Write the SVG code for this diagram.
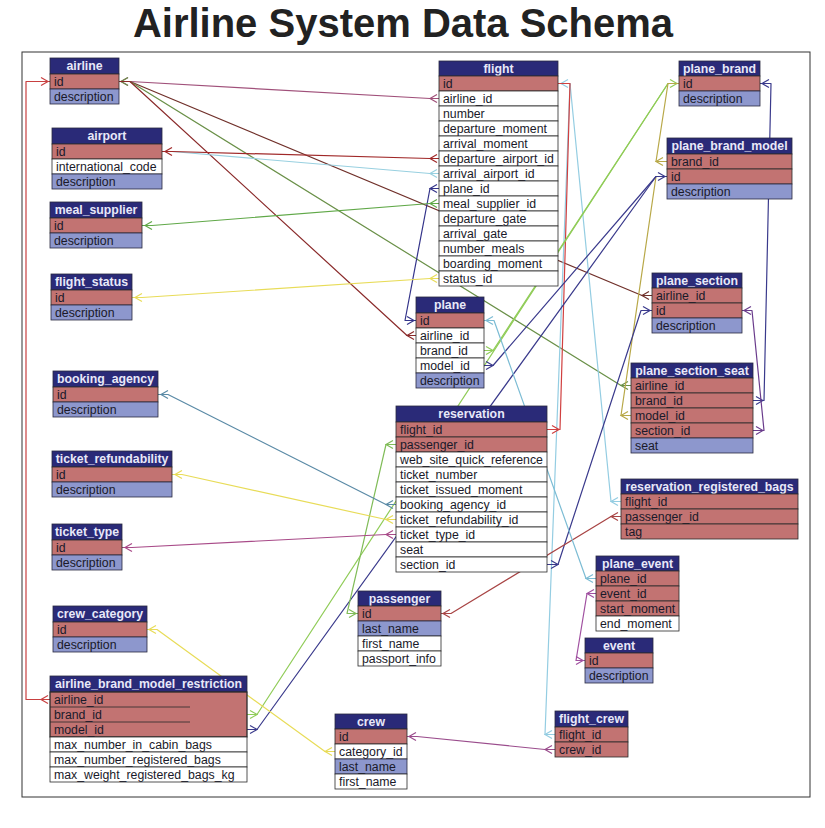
<svg xmlns="http://www.w3.org/2000/svg" xmlns:xlink="http://www.w3.org/1999/xlink" width="825" height="828" viewBox="0 0 825 828">
<defs>
<style>
.hd{fill:#2a2a78;stroke:#2a2a40;stroke-width:.8}
.pk{fill:#c27372;stroke:#2a2a2a;stroke-width:.8}
.bl{fill:#8d97cd;stroke:#2a2a40;stroke-width:.8}
.wh{fill:#fff;stroke:#2a2a2a;stroke-width:.8}
.ht{font-family:"Liberation Sans",Arial,sans-serif;font-weight:bold;font-size:12.3px;fill:#e8e8f8;text-anchor:middle}
.rt{font-family:"Liberation Sans",Arial,sans-serif;font-size:12.3px;fill:#1a1a2a}
.c{fill:none;stroke-width:1.2}
.c polyline{stroke-linejoin:round}
.title{font-family:"Liberation Sans",Arial,sans-serif;font-weight:bold;font-size:40px;fill:#222;text-anchor:middle}
</style>
<path id="cl" d="M7,-4 L0,0 L7,4"/>
<path id="cr" d="M-7,-4 L0,0 L-7,4"/>
</defs>
<rect x="0" y="0" width="825" height="828" fill="#fff"/>
<text class="title" x="403" y="37">Airline System Data Schema</text>
<rect x="22" y="52" width="788" height="745" fill="none" stroke="#333" stroke-width="1"/>

<g id="connectors">
<g class="c" stroke="#a0507a"><polyline points="439,98.5 430,98.5 130,81.5 119,81.5"/><use href="#cl" x="430" y="98.5"/><use href="#cl" x="121" y="81.5"/></g>
<g class="c" stroke="#70302a"><polyline points="652,295.5 642,295.5 130,81.5 119,81.5"/><use href="#cl" x="642" y="295.5"/></g>
<g class="c" stroke="#6a9048"><polyline points="631,385.5 621,385.5 130,81.5 119,81.5"/><use href="#cl" x="621" y="385.5"/><use href="#cl" x="121" y="81.5"/></g>
<g class="c" stroke="#8a2a2a"><polyline points="416,335.5 407,335.5 130,81.5 119,81.5"/><use href="#cl" x="407" y="335.5"/></g>
<g class="c" stroke="#c84040"><polyline points="50,699.5 26,699.5 26,81.5 50,81.5"/><use href="#cl" x="41" y="699.5"/><use href="#cr" x="48" y="81.5"/></g>
<g class="c" stroke="#98d0e0"><polyline points="439,173.5 430,173.5 172,151.5 162,151.5"/><use href="#cl" x="430" y="173.5"/></g>
<g class="c" stroke="#a02828"><polyline points="439,158.5 430,158.5 172,151.5 162,151.5"/><use href="#cl" x="430" y="158.5"/><use href="#cl" x="165" y="151.5"/></g>
<g class="c" stroke="#34348a"><polyline points="439,188.5 430,188.5 405,320.5 416,320.5"/><use href="#cl" x="430" y="188.5"/><use href="#cr" x="414" y="320.5"/></g>
<g class="c" stroke="#60a848"><polyline points="439,203.5 430,203.5 152,225.5 142,225.5"/><use href="#cl" x="430" y="203.5"/><use href="#cl" x="145" y="225.5"/></g>
<g class="c" stroke="#e8dc58"><polyline points="439,278.5 430,278.5 142,297.5 132,297.5"/><use href="#cl" x="430" y="278.5"/><use href="#cl" x="135" y="297.5"/></g>
<g class="c" stroke="#94cde2"><polyline points="621,501.5 611,501.5 570,83.5 558,83.5"/><use href="#cl" x="611" y="501.5"/></g>
<g class="c" stroke="#94cde2"><polyline points="555,734.5 545,734.5 570,83.5 558,83.5"/><use href="#cl" x="545" y="734.5"/><use href="#cl" x="561" y="83.5"/></g>
<g class="c" stroke="#d04040"><polyline points="547,429.5 560,429.5 570,83.5 558,83.5"/><use href="#cr" x="559" y="429.5"/></g>
<g class="c" stroke="#90cc58" stroke-width="2.4"><polyline points="247,714.5 257,714.5 668,83.5 679,83.5"/><use href="#cr" x="257" y="714.5" stroke-width="1.2"/></g>
<g class="c" stroke="#90cc58"><polyline points="484,350.5 493,350.5 668,83.5 679,83.5"/><use href="#cr" x="493" y="350.5"/><use href="#cr" x="677" y="83.5"/></g>
<g class="c" stroke="#b8a848"><polyline points="667,161.5 656,161.5 668,83.5 679,83.5"/><use href="#cl" x="656" y="161.5"/></g>
<g class="c" stroke="#3a3a8c"><polyline points="753,400.5 764,400.5 771,83.5 760,83.5"/><use href="#cr" x="763" y="400.5"/><use href="#cl" x="762" y="83.5"/></g>
<g class="c" stroke="#6a3c8c"><polyline points="753,430.5 764,430.5 752,310.5 742,310.5"/><use href="#cr" x="763" y="430.5"/><use href="#cl" x="744" y="310.5"/></g>
<g class="c" stroke="#b8a848"><polyline points="631,415.5 621,415.5 656,176.5 667,176.5"/><use href="#cl" x="621" y="415.5"/></g>
<g class="c" stroke="#3a3a8c"><polyline points="484,365.5 493,365.5 656,176.5 667,176.5"/><use href="#cr" x="493" y="365.5"/></g>
<g class="c" stroke="#3a3a8c"><polyline points="247,729.5 257,729.5 656,176.5 667,176.5"/><use href="#cr" x="257" y="729.5"/><use href="#cr" x="665" y="176.5"/></g>
<g class="c" stroke="#3a3a8c"><polyline points="547,564.5 558,564.5 641,310.5 652,310.5"/><use href="#cr" x="558" y="564.5"/><use href="#cr" x="650" y="310.5"/></g>
<g class="c" stroke="#80bc58"><polyline points="396,444.5 386,444.5 347,613.5 358,613.5"/><use href="#cl" x="386" y="444.5"/><use href="#cr" x="356" y="613.5"/></g>
<g class="c" stroke="#5a8aa6"><polyline points="396,504.5 386,504.5 168,394.5 158,394.5"/><use href="#cl" x="386" y="504.5"/><use href="#cl" x="161" y="394.5"/></g>
<g class="c" stroke="#e8dc58"><polyline points="396,519.5 386,519.5 182,474.5 172,474.5"/><use href="#cl" x="386" y="519.5"/><use href="#cl" x="175" y="474.5"/></g>
<g class="c" stroke="#a84a88"><polyline points="396,534.5 386,534.5 132,547.5 122,547.5"/><use href="#cl" x="386" y="534.5"/><use href="#cl" x="125" y="547.5"/></g>
<g class="c" stroke="#a84444"><polyline points="621,516.5 611,516.5 451,613.5 441,613.5"/><use href="#cl" x="611" y="516.5"/><use href="#cl" x="443" y="613.5"/></g>
<g class="c" stroke="#7cbcd4"><polyline points="596,578.5 586,578.5 494,320.5 484,320.5"/><use href="#cl" x="586" y="578.5"/><use href="#cl" x="486" y="320.5"/></g>
<g class="c" stroke="#a050a0"><polyline points="596,593.5 587,593.5 576,660.5 585,660.5"/><use href="#cl" x="587" y="593.5"/><use href="#cr" x="583" y="660.5"/></g>
<g class="c" stroke="#9a4c8c"><polyline points="555,749.5 545,749.5 417,736.5 407,736.5"/><use href="#cl" x="545" y="749.5"/><use href="#cl" x="409" y="736.5"/></g>
<g class="c" stroke="#e8dc58"><polyline points="335,751.5 325,751.5 157,629.5 147,629.5"/><use href="#cl" x="325" y="751.5"/><use href="#cl" x="149" y="629.5"/></g>
</g>

<g id="airline">
<rect class="hd" x="50" y="58" width="69" height="16"/><text class="ht" x="84.5" y="70">airline</text>
<rect class="pk" x="50" y="74" width="69" height="15"/><text class="rt" x="54" y="85.5">id</text>
<rect class="bl" x="50" y="89" width="69" height="15"/><text class="rt" x="54" y="100.5">description</text>
</g>
<g id="airport">
<rect class="hd" x="52" y="128" width="110" height="16"/><text class="ht" x="107" y="140">airport</text>
<rect class="pk" x="52" y="144" width="110" height="15"/><text class="rt" x="56" y="155.5">id</text>
<rect class="wh" x="52" y="159" width="110" height="15"/><text class="rt" x="56" y="170.5">international_code</text>
<rect class="bl" x="52" y="174" width="110" height="15"/><text class="rt" x="56" y="185.5">description</text>
</g>
<g id="meal_supplier">
<rect class="hd" x="50" y="202" width="92" height="16"/><text class="ht" x="96" y="214">meal_supplier</text>
<rect class="pk" x="50" y="218" width="92" height="15"/><text class="rt" x="54" y="229.5">id</text>
<rect class="bl" x="50" y="233" width="92" height="15"/><text class="rt" x="54" y="244.5">description</text>
</g>
<g id="flight_status">
<rect class="hd" x="51" y="274" width="81" height="16"/><text class="ht" x="91.5" y="286">flight_status</text>
<rect class="pk" x="51" y="290" width="81" height="15"/><text class="rt" x="55" y="301.5">id</text>
<rect class="bl" x="51" y="305" width="81" height="15"/><text class="rt" x="55" y="316.5">description</text>
</g>
<g id="booking_agency">
<rect class="hd" x="53" y="371" width="105" height="16"/><text class="ht" x="105.5" y="383">booking_agency</text>
<rect class="pk" x="53" y="387" width="105" height="15"/><text class="rt" x="57" y="398.5">id</text>
<rect class="bl" x="53" y="402" width="105" height="15"/><text class="rt" x="57" y="413.5">description</text>
</g>
<g id="ticket_refundability">
<rect class="hd" x="52" y="451" width="120" height="16"/><text class="ht" x="112" y="463">ticket_refundability</text>
<rect class="pk" x="52" y="467" width="120" height="15"/><text class="rt" x="56" y="478.5">id</text>
<rect class="bl" x="52" y="482" width="120" height="15"/><text class="rt" x="56" y="493.5">description</text>
</g>
<g id="ticket_type">
<rect class="hd" x="52" y="524" width="70" height="16"/><text class="ht" x="87" y="536">ticket_type</text>
<rect class="pk" x="52" y="540" width="70" height="15"/><text class="rt" x="56" y="551.5">id</text>
<rect class="bl" x="52" y="555" width="70" height="15"/><text class="rt" x="56" y="566.5">description</text>
</g>
<g id="crew_category">
<rect class="hd" x="53" y="606" width="94" height="16"/><text class="ht" x="100" y="618">crew_category</text>
<rect class="pk" x="53" y="622" width="94" height="15"/><text class="rt" x="57" y="633.5">id</text>
<rect class="bl" x="53" y="637" width="94" height="15"/><text class="rt" x="57" y="648.5">description</text>
</g>
<g id="airline_brand_model_restriction">
<rect class="hd" x="50" y="676" width="197" height="16"/><text class="ht" x="148.5" y="688">airline_brand_model_restriction</text>
<rect class="pk" x="50" y="692" width="197" height="45" stroke="none"/>
<rect x="50" y="692" width="197" height="45" fill="none" stroke="#2a2a2a" stroke-width=".8"/>
<path d="M50,707 H190 M50,722 H190" stroke="#2a2a2a" stroke-width=".8"/>
<text class="rt" x="54" y="703.5">airline_id</text>
<text class="rt" x="54" y="718.5">brand_id</text>
<text class="rt" x="54" y="733.5">model_id</text>
<rect class="wh" x="50" y="737" width="197" height="15"/><text class="rt" x="54" y="748.5">max_number_in_cabin_bags</text>
<rect class="wh" x="50" y="752" width="197" height="15"/><text class="rt" x="54" y="763.5">max_number_registered_bags</text>
<rect class="wh" x="50" y="767" width="197" height="15"/><text class="rt" x="54" y="778.5">max_weight_registered_bags_kg</text>
</g>
<g id="flight">
<rect class="hd" x="439" y="61" width="119" height="15"/><text class="ht" x="498.5" y="72.5">flight</text>
<rect class="pk" x="439" y="76" width="119" height="15"/><text class="rt" x="443" y="87.5">id</text>
<rect class="wh" x="439" y="91" width="119" height="15"/><text class="rt" x="443" y="102.5">airline_id</text>
<rect class="wh" x="439" y="106" width="119" height="15"/><text class="rt" x="443" y="117.5">number</text>
<rect class="wh" x="439" y="121" width="119" height="15"/><text class="rt" x="443" y="132.5">departure_moment</text>
<rect class="wh" x="439" y="136" width="119" height="15"/><text class="rt" x="443" y="147.5">arrival_moment</text>
<rect class="wh" x="439" y="151" width="119" height="15"/><text class="rt" x="443" y="162.5">departure_airport_id</text>
<rect class="wh" x="439" y="166" width="119" height="15"/><text class="rt" x="443" y="177.5">arrival_airport_id</text>
<rect class="wh" x="439" y="181" width="119" height="15"/><text class="rt" x="443" y="192.5">plane_id</text>
<rect class="wh" x="439" y="196" width="119" height="15"/><text class="rt" x="443" y="207.5">meal_supplier_id</text>
<rect class="wh" x="439" y="211" width="119" height="15"/><text class="rt" x="443" y="222.5">departure_gate</text>
<rect class="wh" x="439" y="226" width="119" height="15"/><text class="rt" x="443" y="237.5">arrival_gate</text>
<rect class="wh" x="439" y="241" width="119" height="15"/><text class="rt" x="443" y="252.5">number_meals</text>
<rect class="wh" x="439" y="256" width="119" height="15"/><text class="rt" x="443" y="267.5">boarding_moment</text>
<rect class="wh" x="439" y="271" width="119" height="15"/><text class="rt" x="443" y="282.5">status_id</text>
</g>
<g id="plane_brand">
<rect class="hd" x="679" y="61" width="81" height="15"/><text class="ht" x="719.5" y="72.5">plane_brand</text>
<rect class="pk" x="679" y="76" width="81" height="15"/><text class="rt" x="683" y="87.5">id</text>
<rect class="bl" x="679" y="91" width="81" height="15"/><text class="rt" x="683" y="102.5">description</text>
</g>
<g id="plane_brand_model">
<rect class="hd" x="667" y="138" width="125" height="16"/><text class="ht" x="729.5" y="150">plane_brand_model</text>
<rect class="pk" x="667" y="154" width="125" height="15"/><text class="rt" x="671" y="165.5">brand_id</text>
<rect class="pk" x="667" y="169" width="125" height="15"/><text class="rt" x="671" y="180.5">id</text>
<rect class="bl" x="667" y="184" width="125" height="15"/><text class="rt" x="671" y="195.5">description</text>
</g>
<g id="plane_section">
<rect class="hd" x="652" y="273" width="90" height="15"/><text class="ht" x="697" y="284.5">plane_section</text>
<rect class="pk" x="652" y="288" width="90" height="15"/><text class="rt" x="656" y="299.5">airline_id</text>
<rect class="pk" x="652" y="303" width="90" height="15"/><text class="rt" x="656" y="314.5">id</text>
<rect class="bl" x="652" y="318" width="90" height="15"/><text class="rt" x="656" y="329.5">description</text>
</g>
<g id="plane_section_seat">
<rect class="hd" x="631" y="363" width="122" height="15"/><text class="ht" x="692" y="374.5">plane_section_seat</text>
<rect class="pk" x="631" y="378" width="122" height="15"/><text class="rt" x="635" y="389.5">airline_id</text>
<rect class="pk" x="631" y="393" width="122" height="15"/><text class="rt" x="635" y="404.5">brand_id</text>
<rect class="pk" x="631" y="408" width="122" height="15"/><text class="rt" x="635" y="419.5">model_id</text>
<rect class="pk" x="631" y="423" width="122" height="15"/><text class="rt" x="635" y="434.5">section_id</text>
<rect class="bl" x="631" y="438" width="122" height="15"/><text class="rt" x="635" y="449.5">seat</text>
</g>
<g id="reservation_registered_bags">
<rect class="hd" x="621" y="479" width="177" height="15"/><text class="ht" x="709.5" y="490.5">reservation_registered_bags</text>
<rect class="pk" x="621" y="494" width="177" height="15"/><text class="rt" x="625" y="505.5">flight_id</text>
<rect class="pk" x="621" y="509" width="177" height="15"/><text class="rt" x="625" y="520.5">passenger_id</text>
<rect class="pk" x="621" y="524" width="177" height="15"/><text class="rt" x="625" y="535.5">tag</text>
</g>
<g id="plane_event">
<rect class="hd" x="596" y="556" width="83" height="15"/><text class="ht" x="637.5" y="567.5">plane_event</text>
<rect class="pk" x="596" y="571" width="83" height="15"/><text class="rt" x="600" y="582.5">plane_id</text>
<rect class="pk" x="596" y="586" width="83" height="15"/><text class="rt" x="600" y="597.5">event_id</text>
<rect class="pk" x="596" y="601" width="83" height="15"/><text class="rt" x="600" y="612.5">start_moment</text>
<rect class="wh" x="596" y="616" width="83" height="15"/><text class="rt" x="600" y="627.5">end_moment</text>
</g>
<g id="event">
<rect class="hd" x="585" y="638" width="68" height="15"/><text class="ht" x="619" y="649.5">event</text>
<rect class="pk" x="585" y="653" width="68" height="15"/><text class="rt" x="589" y="664.5">id</text>
<rect class="bl" x="585" y="668" width="68" height="15"/><text class="rt" x="589" y="679.5">description</text>
</g>
<g id="plane">
<rect class="hd" x="416" y="297" width="68" height="16"/><text class="ht" x="450" y="309">plane</text>
<rect class="pk" x="416" y="313" width="68" height="15"/><text class="rt" x="420" y="324.5">id</text>
<rect class="wh" x="416" y="328" width="68" height="15"/><text class="rt" x="420" y="339.5">airline_id</text>
<rect class="wh" x="416" y="343" width="68" height="15"/><text class="rt" x="420" y="354.5">brand_id</text>
<rect class="wh" x="416" y="358" width="68" height="15"/><text class="rt" x="420" y="369.5">model_id</text>
<rect class="bl" x="416" y="373" width="68" height="15"/><text class="rt" x="420" y="384.5">description</text>
</g>
<g id="reservation">
<rect class="hd" x="396" y="406" width="151" height="16"/><text class="ht" x="471.5" y="418">reservation</text>
<rect class="pk" x="396" y="422" width="151" height="15"/><text class="rt" x="400" y="433.5">flight_id</text>
<rect class="pk" x="396" y="437" width="151" height="15"/><text class="rt" x="400" y="448.5">passenger_id</text>
<rect class="wh" x="396" y="452" width="151" height="15"/><text class="rt" x="400" y="463.5">web_site_quick_reference</text>
<rect class="wh" x="396" y="467" width="151" height="15"/><text class="rt" x="400" y="478.5">ticket_number</text>
<rect class="wh" x="396" y="482" width="151" height="15"/><text class="rt" x="400" y="493.5">ticket_issued_moment</text>
<rect class="wh" x="396" y="497" width="151" height="15"/><text class="rt" x="400" y="508.5">booking_agency_id</text>
<rect class="wh" x="396" y="512" width="151" height="15"/><text class="rt" x="400" y="523.5">ticket_refundability_id</text>
<rect class="wh" x="396" y="527" width="151" height="15"/><text class="rt" x="400" y="538.5">ticket_type_id</text>
<rect class="wh" x="396" y="542" width="151" height="15"/><text class="rt" x="400" y="553.5">seat</text>
<rect class="wh" x="396" y="557" width="151" height="15"/><text class="rt" x="400" y="568.5">section_id</text>
</g>
<g id="passenger">
<rect class="hd" x="358" y="591" width="83" height="15"/><text class="ht" x="399.5" y="602.5">passenger</text>
<rect class="pk" x="358" y="606" width="83" height="15"/><text class="rt" x="362" y="617.5">id</text>
<rect class="bl" x="358" y="621" width="83" height="15"/><text class="rt" x="362" y="632.5">last_name</text>
<rect class="wh" x="358" y="636" width="83" height="15"/><text class="rt" x="362" y="647.5">first_name</text>
<rect class="wh" x="358" y="651" width="83" height="15"/><text class="rt" x="362" y="662.5">passport_info</text>
</g>
<g id="crew">
<rect class="hd" x="335" y="714" width="72" height="15"/><text class="ht" x="371" y="725.5">crew</text>
<rect class="pk" x="335" y="729" width="72" height="15"/><text class="rt" x="339" y="740.5">id</text>
<rect class="wh" x="335" y="744" width="72" height="15"/><text class="rt" x="339" y="755.5">category_id</text>
<rect class="bl" x="335" y="759" width="72" height="15"/><text class="rt" x="339" y="770.5">last_name</text>
<rect class="wh" x="335" y="774" width="72" height="15"/><text class="rt" x="339" y="785.5">first_name</text>
</g>
<g id="flight_crew">
<rect class="hd" x="555" y="711" width="73" height="16"/><text class="ht" x="591.5" y="723">flight_crew</text>
<rect class="pk" x="555" y="727" width="73" height="15"/><text class="rt" x="559" y="738.5">flight_id</text>
<rect class="pk" x="555" y="742" width="73" height="15"/><text class="rt" x="559" y="753.5">crew_id</text>
</g>
</svg>
